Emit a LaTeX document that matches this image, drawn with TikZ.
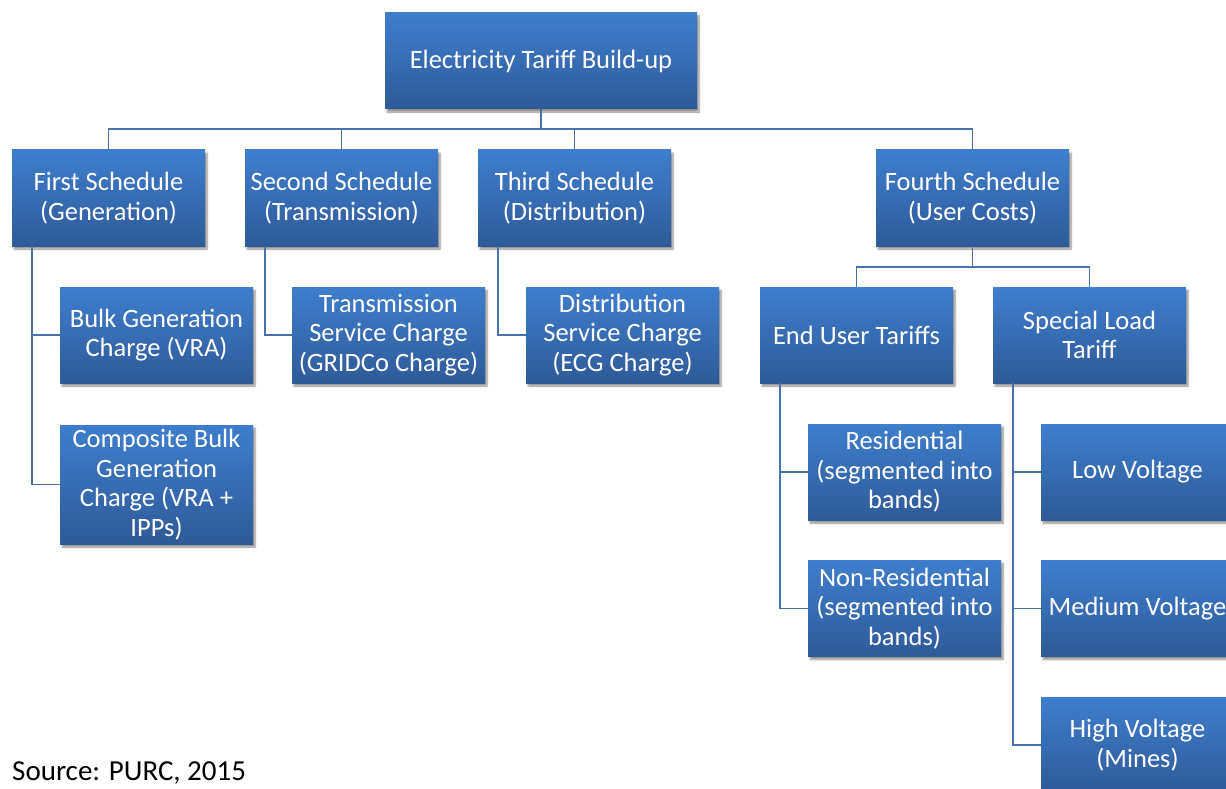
\documentclass[tikz,border=0pt]{standalone}
\usepackage{fontspec}
\setmainfont{Carlito}
\usetikzlibrary{shadows.blur}
\definecolor{boxtop}{RGB}{62,126,204}
\definecolor{boxbot}{RGB}{46,91,152}
\definecolor{linkcol}{RGB}{74,114,170}
\tikzset{
  treenode/.style = {align=center, inner sep=0pt, text centered,
    font=\fontsize{26.5}{29.5}\selectfont, text=white},
  tbox/.style = {treenode, rectangle, top color=boxtop, bottom color=boxbot,
    minimum width=193pt, minimum height=96pt,
    blur shadow={shadow xshift=2pt, shadow yshift=-3pt, shadow blur steps=6,
      shadow opacity=45}},% boite normale
  tboxhi/.style = {tbox, minimum height=119pt},% boite haute
  link/.style = {draw=linkcol, line width=1.6pt}
}

\begin{document}
\begin{tikzpicture}[x=1pt,y=-1pt]
  \useasboundingbox (0,0) rectangle (1226,789);
  \clip (0,0) rectangle (1226,789);
  \node [tbox, minimum width=312pt] (root) at (541,61) {Electricity Tariff Build-up};
  \node [tbox] (s1) at (108.5,198) {First Schedule\\(Generation)};
  \node [tbox] (s2) at (341.5,198) {Second Schedule\\(Transmission)};
  \node [tbox] (s3) at (574.5,198) {Third Schedule\\(Distribution)};
  \node [tbox] (s4) at (972.5,198) {Fourth Schedule\\(User Costs)};
  \node [tbox] (bulk) at (156.5,335) {Bulk Generation\\Charge (VRA)};
  \node [tboxhi] (comp) at (156.5,484.5) {Composite Bulk\\Generation\\Charge (VRA +\\IPPs)};
  \node [tbox] (trans) at (388.5,335) {Transmission\\Service Charge\\(GRIDCo Charge)};
  \node [tbox] (dist) at (622.5,335) {Distribution\\Service Charge\\(ECG Charge)};
  \node [tbox] (enduser) at (856.5,335) {End User Tariffs};
  \node [tbox] (special) at (1089.5,335) {Special Load\\Tariff};
  \node [tbox] (resid) at (904.5,472) {Residential\\(segmented into\\bands)};
  \node [tbox] (nonres) at (904.5,608.5) {Non-Residential\\(segmented into\\bands)};
  \node [tbox] (lowv) at (1137.5,472) {Low Voltage};
  \node [tbox] (medv) at (1137.5,608.5) {Medium Voltage};
  \node [tbox] (highv) at (1137.5,745) {High Voltage\\(Mines)};
  \node [treenode, font=\fontsize{29}{32}\selectfont, text=black, anchor=west]
    (src) at (12,773) {Source: PURC, 2015};

  \foreach \to in {s1,s2,s3,s4}
    \draw [link] (root.south) -- ++(0,20) -| (\to.north);
  \foreach \to in {enduser,special}
    \draw [link] (s4.south) -- ++(0,21) -| (\to.north);
  \foreach \from/\to in {s1/bulk,s1/comp,s2/trans,s3/dist,enduser/resid,
      enduser/nonres,special/lowv,special/medv,special/highv}
    \draw [link] ([xshift=20pt]\from.south west) |- (\to.west);
\end{tikzpicture}
\end{document}
